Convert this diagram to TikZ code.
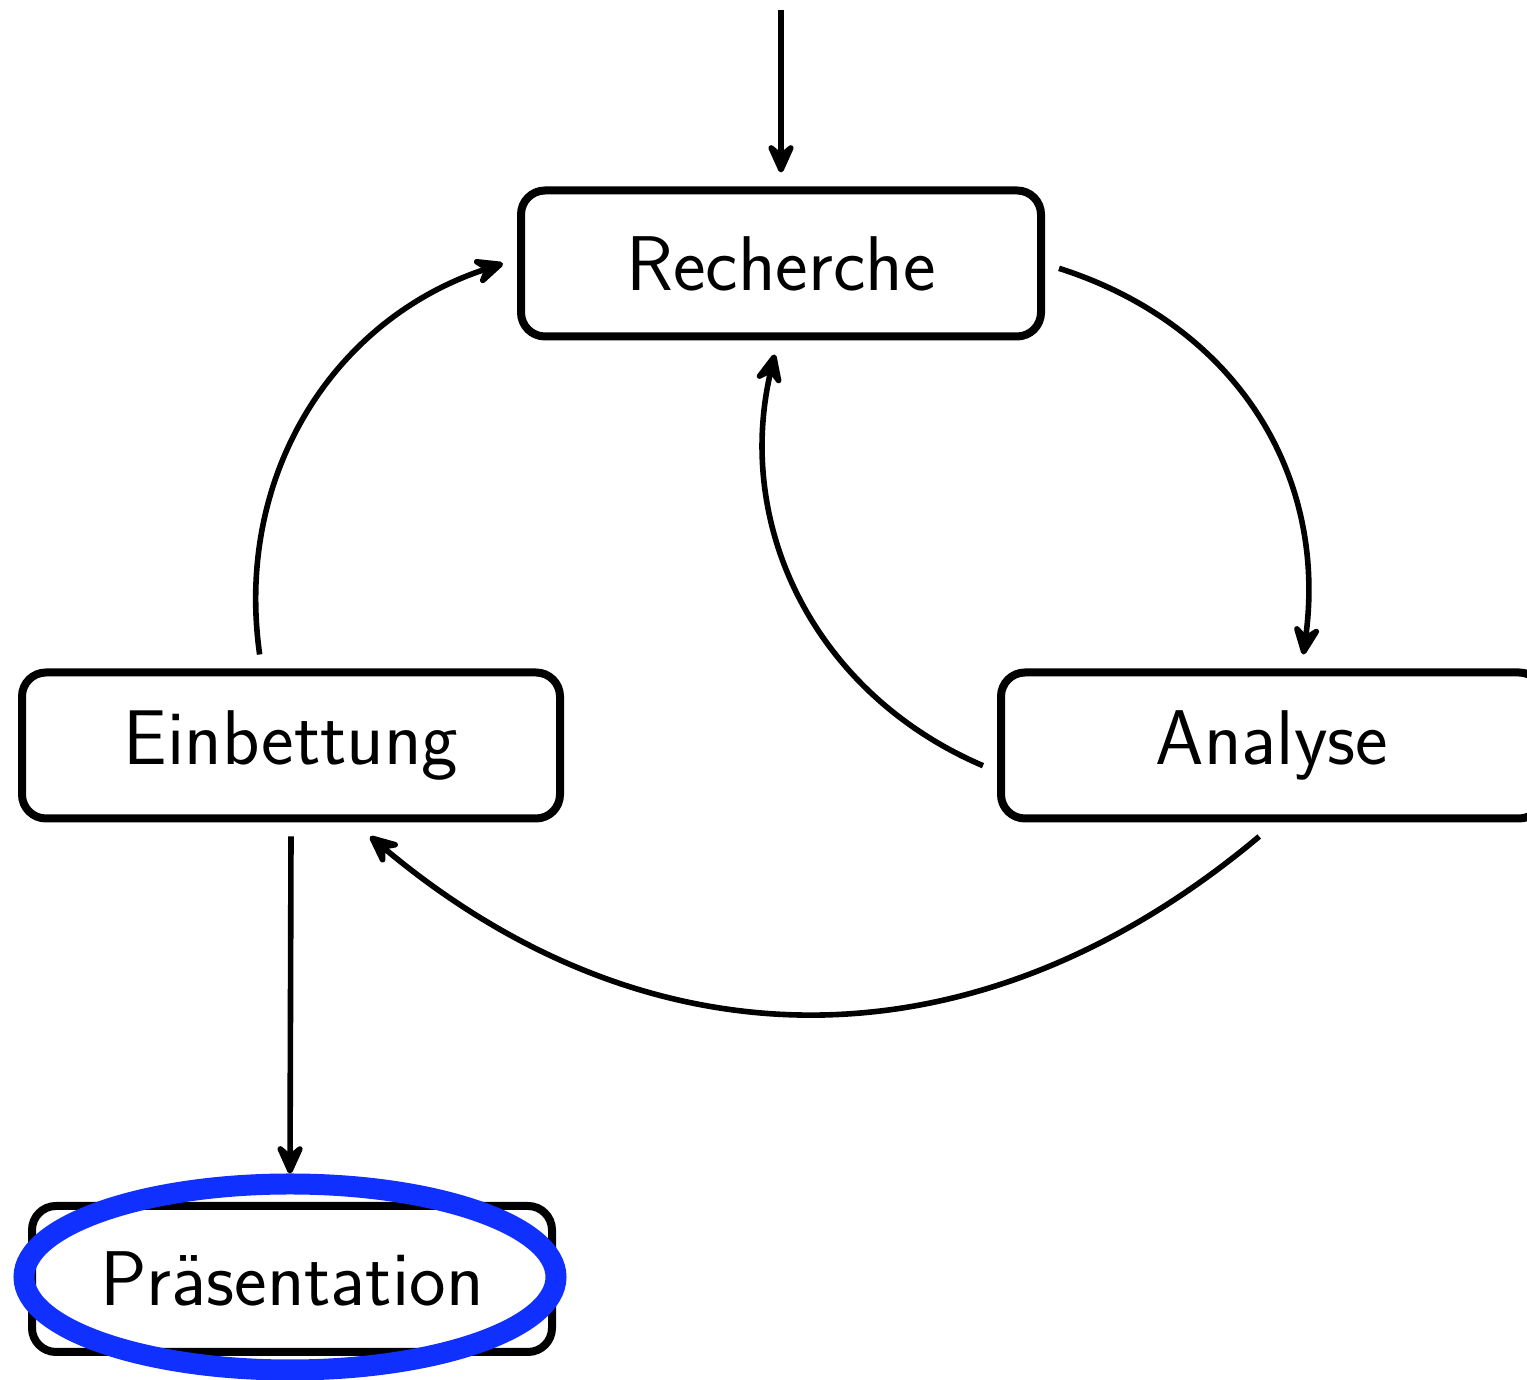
\documentclass[tikz,border=0pt]{standalone}
\usepackage{fontspec}
\usetikzlibrary{arrows.meta,shapes.geometric}
\definecolor{hlblue}{RGB}{16,48,255}
\begin{document}
\begin{tikzpicture}[x=0.5pt,y=0.5pt,
  box/.style={draw, line width=4pt, rounded corners=12pt, minimum height=73pt,
    outer sep=9pt, font=\sffamily\fontsize{38.8}{46}\selectfont},
  flow/.style={line width=2.8pt,
    -{Stealth[length=19pt,width=17pt,inset=7pt,round]}},
  highlight/.style={draw=hlblue, line width=10.5pt, ellipse, minimum width=266pt,
    minimum height=93pt, inner sep=0pt}]
  \useasboundingbox (0,0) rectangle (1527,1380);

  % process steps
  \node[box, minimum width=260pt] (rech) at (781,1116.5) {Recherche};
  \node[box, minimum width=269pt] (einb) at (291,634.5) {Einbettung};
  \node[box, minimum width=271pt] (ana)  at (1272,634.5) {Analyse};
  \node[box, minimum width=260pt] (pres) at (292,101) {Präsentation};
  \node[highlight] (hl) at (290,103) {};

  \coordinate (start) at (781,1370);

  % connectors
  \draw[flow] (start) -- (rech.north);
  \draw[flow] (rech.-1) to[bend left=40, looseness=1.03] (ana.71);
  \draw[flow] (ana.184) to[bend left=40] (rech.266);
  \draw[flow] (ana.262) to[bend left=40, looseness=1.06] (einb.-49);
  \draw[flow] (einb.109) to[bend left=40] (rech.west);
  \draw[flow] (einb.south) -- (hl.north);
\end{tikzpicture}
\end{document}
